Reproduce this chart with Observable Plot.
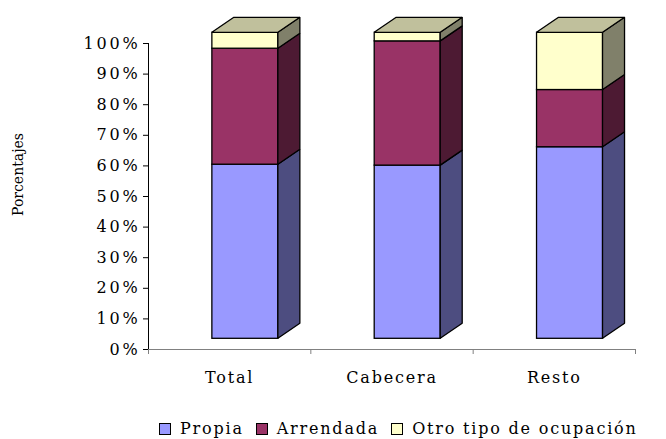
<!DOCTYPE html>
<html><head><meta charset="utf-8">
<script src="https://cdn.jsdelivr.net/npm/d3@7"></script>
<script src="https://cdn.jsdelivr.net/npm/@observablehq/plot@0.6"></script>
<style>
body{margin:0;background:#fff;font-family:"DejaVu Serif",serif;}
#wrap{position:relative;width:666px;height:439px;overflow:hidden}
#legend{position:absolute;left:159px;top:421px;display:flex;align-items:center;font-size:16px;letter-spacing:1.8px;color:#000;white-space:nowrap;line-height:16px}
.sw{width:10px;height:10px;border:1.4px solid #000;margin-right:9px;box-sizing:content-box}
.item{display:flex;align-items:center;margin-right:12px}
svg g[aria-label="y-axis tick label"]{letter-spacing:2.8px}
svg g[aria-label="x-axis tick label"]{letter-spacing:1.8px}
</style></head><body><div id="wrap"><div id="chart"></div><div id="legend"></div></div>
<script>
const categorias = ["Total", "Cabecera", "Resto"];
const series = ["Propia", "Arrendada", "Otro tipo de ocupación"];
const propia = [56.9, 56.6, 62.6];
const arrendada = [37.9, 40.6, 18.7];
const otro = [5.2, 2.8, 18.7];
const yTicks = [0, 10, 20, 30, 40, 50, 60, 70, 80, 90, 100];

const frontCol = ["#9999FF", "#993366", "#FFFFCC"];
const sideCol = ["#4D4D80", "#4D1A33", "#80806A"];
const topCol = "#C0C09C";

const W = 666, H = 390, ML = 148, MR = 31, MT = 43, MB = 41;
const kx = (W - ML - MR) / 3, ky = (H - MB - MT) / 100;
const half = 33 / kx, depX = 22 / kx, depY = 15 / ky;
const offX = 15.7, offY = -10.7;

const seriesVals = [propia, arrendada, otro];
const segs = [];
categorias.forEach((c, i) => {
  let s = 0;
  seriesVals.forEach((vals, j) => {
    const e = s + vals[i];
    segs.push({cat: c, i, j, s, e});
    s = e;
  });
});
const front = segs.map(d => ({...d, x1: d.i - half, x2: d.i + half}));
const side = segs.flatMap(d => [
  {key: d.cat + d.j, j: d.j, x: d.i + half, y1: d.s, y2: d.e},
  {key: d.cat + d.j, j: d.j, x: d.i + half + depX, y1: d.s + depY, y2: d.e + depY}
]);
const tops = categorias.flatMap((c, i) => {
  const t = d3.sum(seriesVals, v => v[i]);
  return [
    {key: c, y: t, x1: i - half, x2: i + half},
    {key: c, y: t + depY, x1: i - half + depX, x2: i + half + depX}
  ];
});

const sw = 1.3;
const barMarks = [];
series.forEach((s, j) => {
  barMarks.push(Plot.rect(front.filter(d => d.j === j), {
    x1: "x1", x2: "x2", y1: "s", y2: "e", fill: frontCol[j],
    stroke: "#000", strokeWidth: sw, dx: offX, dy: offY
  }));
  barMarks.push(Plot.areaY(side.filter(d => d.j === j), {
    x: "x", y1: "y1", y2: "y2", z: "key", fill: sideCol[j],
    stroke: "#000", strokeWidth: sw, strokeLinejoin: "miter", dx: offX, dy: offY
  }));
});
barMarks.push(Plot.areaX(tops, {
  y: "y", x1: "x1", x2: "x2", z: "key", fill: topCol,
  stroke: "#000", strokeWidth: sw, strokeLinejoin: "miter", dx: offX, dy: offY
}));

const chart = Plot.plot({
  width: W, height: H,
  marginLeft: ML, marginRight: MR, marginTop: MT, marginBottom: MB,
  x: {type: "linear", domain: [-0.5, 2.5]},
  y: {domain: [0, 100]},
  style: {fontFamily: "DejaVu Serif", fontSize: "16px", color: "#000", background: "#fff", overflow: "visible"},
  marks: [
    Plot.ruleY([0], {stroke: "#808080", strokeWidth: 1}),
    Plot.axisX({ticks: [-0.5, 0.5, 1.5, 2.5], tickFormat: () => "", tickSize: 5, stroke: "#808080", label: null}),
    Plot.axisX({ticks: [0, 1, 2], tickFormat: i => categorias[i], tickSize: 0, tickPadding: 22, fontSize: 16, label: null}),
    Plot.ruleX([-0.5], {stroke: "#000", strokeWidth: 1}),
    Plot.axisY({ticks: yTicks, tickFormat: d => d + "%", tickSize: 5, tickPadding: 3, fontSize: 16, label: null}),
    Plot.text(["Porcentajes"], {frameAnchor: "left", dx: -129.5, dy: -22, rotate: -90, textAnchor: "middle", fontSize: 14}),
    ...barMarks
  ]
});
document.getElementById("chart").appendChild(chart);

const legend = document.getElementById("legend");
series.forEach((s, j) => {
  const it = document.createElement("div");
  it.className = "item";
  const b = document.createElement("div");
  b.className = "sw";
  b.style.background = frontCol[j];
  const t = document.createElement("span");
  t.textContent = s;
  it.appendChild(b); it.appendChild(t);
  legend.appendChild(it);
});
</script>
</body></html>
